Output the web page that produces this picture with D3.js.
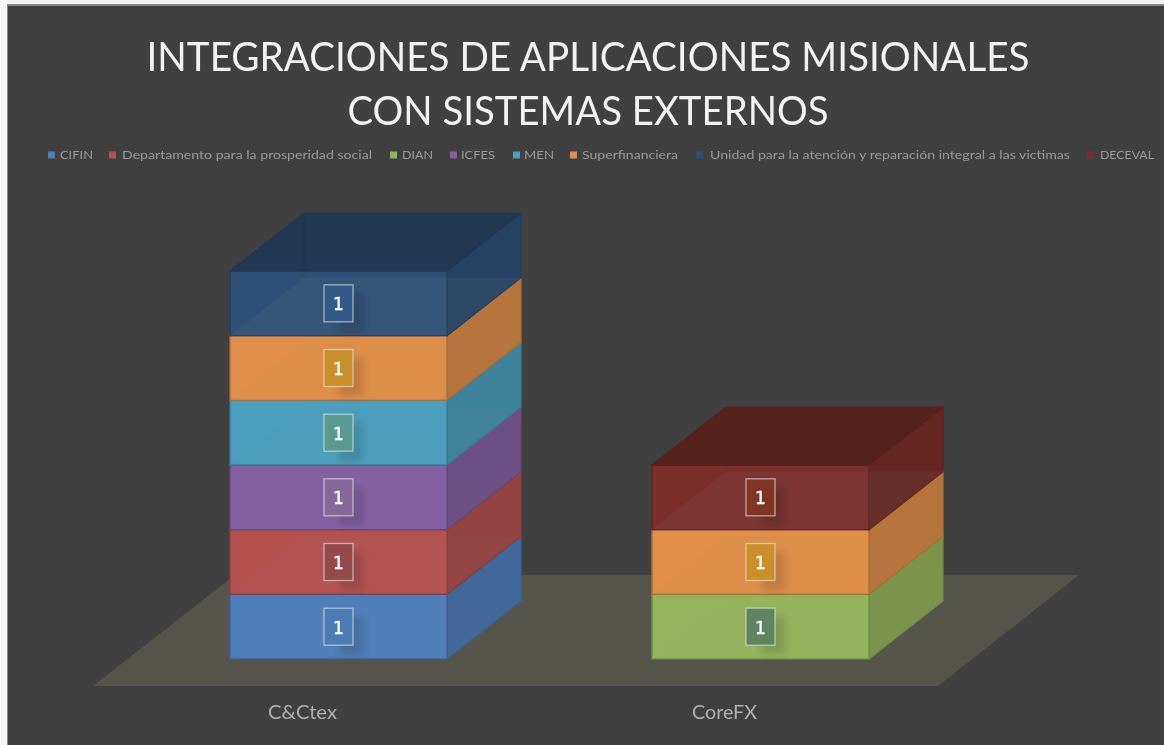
<!DOCTYPE html>
<html><head><meta charset="utf-8">
<script src="https://cdn.jsdelivr.net/npm/d3@7"></script>
<style>html,body{margin:0;padding:0;background:#fff}svg{display:block}</style>
</head><body><svg id="c" width="1164" height="745"></svg>
<script>
const titleLines = ["INTEGRACIONES DE APLICACIONES MISIONALES","CON SISTEMAS EXTERNOS"];
const titleWidths = [883,481];
const categories = ["C&Ctex","CoreFX"];
const categoryWidths = [69,65];
const seriesNames = ["CIFIN","Departamento para la prosperidad social","DIAN","ICFES","MEN","Superfinanciera","Unidad para la atención y reparación integral a las victimas","DECEVAL"];
const seriesColors = ["#4f7fbb","#b55150","#94b55c","#8460a2","#4a9fbd","#e08e48","#2f5078","#7c2f2b"];
const labelFills = ["#4c7cb4","#95484a","#5e8460","#86689a","#589a92","#cb8f2c","#305a88","#7e3422"];
const seriesCtex = [1,1,0,1,1,1,1,0];
const seriesCore = [0,0,1,0,0,1,0,1];
const legendX = [48,109,390,450,513,570,696,1087];
const legendTextX = [60,122,402,461,524,582,710,1100];
const legendTextW = [33,250,31,34,30,96,360,54];

const svg = d3.select("#c");
const defs = svg.append("defs");
defs.append("filter").attr("id","soft").attr("x","-2%").attr("y","-2%").attr("width","104%").attr("height","104%")
  .append("feGaussianBlur").attr("stdDeviation",0.6);
defs.append("filter").attr("id","shadow").attr("x","-50%").attr("y","-50%").attr("width","200%").attr("height","200%")
  .append("feGaussianBlur").attr("stdDeviation",3.5);

svg.append("rect").attr("width",1164).attr("height",745).attr("fill","#f4f4f4");
svg.append("rect").attr("x",7).attr("y",4).attr("width",1157).attr("height",741).attr("fill","#858585");
const root = svg.append("g").attr("filter","url(#soft)");
root.append("rect").attr("x",8).attr("y",6).attr("width",1156).attr("height",739).attr("fill","#404040");

const font = "Lato,'Open Sans',sans-serif";
titleLines.forEach((t,i)=>root.append("text").attr("x",588).attr("y",[70.5,125][i]).attr("text-anchor","middle")
  .attr("font-family",font).attr("font-size",41).attr("fill","#f2f2f2")
  .attr("textLength",titleWidths[i]).attr("lengthAdjust","spacingAndGlyphs").text(t));

seriesNames.forEach((n,i)=>{
  root.append("rect").attr("x",legendX[i]).attr("y",151.5).attr("width",7).attr("height",7).attr("fill",seriesColors[i]);
  root.append("text").attr("x",legendTextX[i]).attr("y",159).attr("font-family",font).attr("font-size",11)
    .attr("fill","#9a9a9a").attr("textLength",legendTextW[i]).attr("lengthAdjust","spacingAndGlyphs").text(n);
});

const x = d3.scalePoint().domain(categories).range([338.5,760.5]);
const y = d3.scaleLinear().domain([0,6]).range([659,271]);
const barW = 217, dx = 74, dy = -58;

root.append("polygon").attr("fill","#57544b").attr("points",[[93,686],[938,686],[1079,575],[235,575]].join(" "));

function shade(c,k){return d3.color(c).darker(k).formatHex();}
function box(cat,vals){
  const cx = x(cat), L = cx-barW/2, R = cx+barW/2;
  let acc = 0;
  const stack = [];
  vals.forEach((v,i)=>{ if(v>0){ stack.push({i,y0:acc,y1:acc+v}); acc+=v; }});
  stack.forEach((s,j)=>{
    const c = seriesColors[s.i], yb=y(s.y0), yt=y(s.y1), top = j===stack.length-1;
    const edge = d3.color(c).darker(0.75).formatHex();
    const g = root.append("g");
    g.append("polygon").attr("fill",shade(c,0.55)).attr("stroke",edge).attr("stroke-width",1.3)
      .attr("points",[[R,yb],[R+dx,yb+dy],[R+dx,yt+dy],[R,yt]].join(" "));
    g.append("rect").attr("x",L).attr("y",yt).attr("width",barW).attr("height",yb-yt)
      .attr("fill",c).attr("stroke",edge).attr("stroke-width",1.3);
    g.append("polygon").attr("fill","#8a8a80").attr("fill-opacity",top?0.09:0.035)
      .attr("points",[[L,yb],[L+dx,yb+dy],[R+dx,yb+dy],[R,yb]].join(" "));
    if(top){
      g.append("polygon").attr("fill",shade(c,1.05)).attr("stroke",shade(c,1.0)).attr("stroke-width",1.2)
        .attr("points",[[L,yt],[L+dx,yt+dy],[R+dx,yt+dy],[R,yt]].join(" "));
      g.append("line").attr("x1",L+dx).attr("y1",yt+dy).attr("x2",L+dx).attr("y2",yb+dy)
        .attr("stroke",shade(c,1.3)).attr("stroke-opacity",.25);
    }
  });
  stack.forEach(s=>{
    const yb=y(s.y0), ym=(y(s.y0)+y(s.y1))/2;
    root.append("rect").attr("x",cx+1).attr("y",ym-10).attr("width",24).attr("height",yb-ym+6)
      .attr("fill","#000").attr("opacity",.12).attr("filter","url(#shadow)");
    root.append("rect").attr("x",cx-14.5).attr("y",ym-18.5).attr("width",29).attr("height",37)
      .attr("fill",labelFills[s.i]).attr("stroke","#e4e4e4").attr("stroke-opacity",.65).attr("stroke-width",1.3);
    root.append("text").attr("x",cx).attr("y",ym+7).attr("text-anchor","middle").attr("font-family","'DejaVu Sans',sans-serif")
      .attr("font-size",17).attr("fill","#fff").attr("stroke","#fff").attr("stroke-width",0.4).text(s.y1-s.y0);
  });
}
box(categories[0],seriesCtex);
box(categories[1],seriesCore);

categories.forEach((c,i)=>root.append("text").attr("x",[302.5,724.5][i]).attr("y",719).attr("text-anchor","middle")
  .attr("font-family",font).attr("font-size",19).attr("fill","#b0b0b0")
  .attr("textLength",categoryWidths[i]).attr("lengthAdjust","spacingAndGlyphs").text(c));
</script></body></html>
